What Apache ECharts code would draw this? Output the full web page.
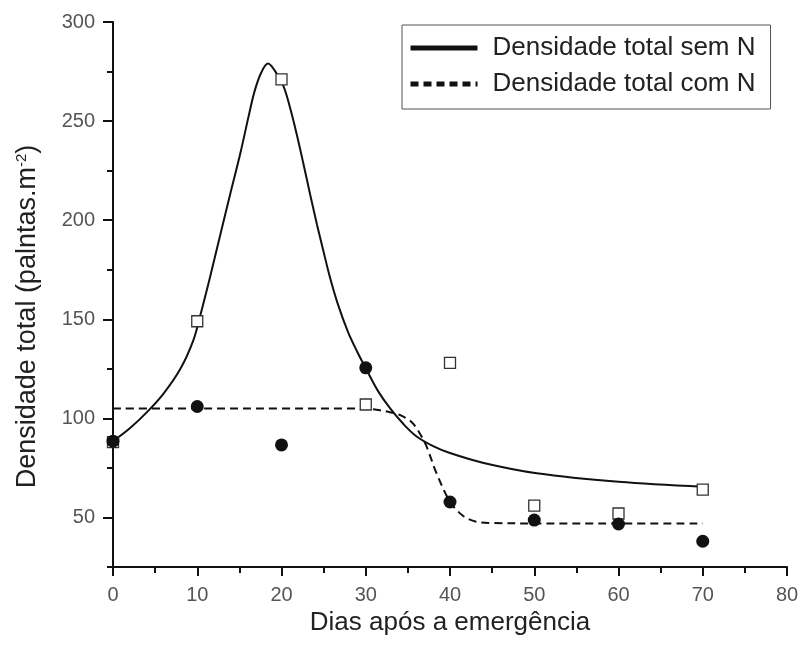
<!DOCTYPE html>
<html>
<head>
<meta charset="utf-8">
<script src="https://cdn.jsdelivr.net/npm/echarts@6/dist/echarts.min.js"></script>
<style>
  html, body { margin: 0; padding: 0; background: #fff; }
  #chart { width: 800px; height: 652px; }
</style>
</head>
<body>
<div id="chart"></div>
<script>
// observed points (days after emergence)
var days = [0, 10, 20, 30, 40, 50, 60, 70];
var semN = [88, 149, 271, 107, 128, 56, 52, 64];           // open squares
var comN = [88.5, 106, 86.6, 125.5, 57.8, 48.7, 46.7, 38]; // filled circles

// fitted curves
var curveSemX = [0, 2, 4, 6, 8, 9.5, 10.3, 11.5, 12.7, 13.9, 15.1, 16.1, 16.8, 17.6, 18.4, 19.2, 20.2, 21, 21.8, 22.6, 23.4, 24.2, 25, 25.7, 26.7, 27.9, 29, 30.1, 31.5, 32.9, 34.5, 36, 38, 40, 44, 50.3, 60, 70];
var curveSemY = [88.5, 95, 103, 112.5, 125, 139, 151, 171, 192, 213, 233.5, 252.5, 265, 274.5, 279, 275.5, 268, 257, 243.5, 228.5, 213, 198, 184, 172, 157.5, 143.5, 133.5, 124.5, 113.5, 105, 97, 91, 86, 82.5, 77.5, 72.3, 68, 65.5];
var curveComX = [0, 10, 20, 28, 30, 31.5, 33, 34, 35, 35.6, 36.4, 37.2, 38.4, 40, 41.5, 43, 45, 50, 60, 70];
var curveComY = [105, 105, 105, 105, 104.9, 104.2, 103, 101.8, 99.5, 97.5, 92.5, 86, 72.3, 58, 51, 48, 47.2, 47, 47, 47];

var legendNames = ['Densidade total sem N', 'Densidade total com N'];
var xName = 'Dias após a emergência';

function pairs(xs, ys) {
    return xs.map(function (x, i) { return [x, ys[i]]; });
}

var font = "'Liberation Sans', Arial, sans-serif";
var chart = echarts.init(document.getElementById('chart'));

var option = {
    animation: false,
    backgroundColor: '#fff',
    grid: { left: 113, right: 13, top: 22, bottom: 85, outerBoundsMode: 'none' },
    legend: {
        data: legendNames,
        orient: 'vertical',
        left: 402,
        top: 25,
        itemWidth: 67,
        itemHeight: 25,
        itemGap: 10,
        padding: [10, 15, 12, 6],
        borderColor: '#555',
        borderWidth: 1,
        itemStyle: { opacity: 0, color: 'rgba(0,0,0,0)', borderWidth: 0 },
        lineStyle: { width: 5 },
        textStyle: { fontFamily: font, fontSize: 26, color: '#222', padding: [0, 0, 0, 10] }
    },
    xAxis: {
        type: 'value',
        min: 0,
        max: 80,
        interval: 10,
        name: xName,
        nameLocation: 'middle',
        nameGap: 41,
        nameTextStyle: { fontFamily: font, fontSize: 26, color: '#222' },
        axisLine: { lineStyle: { color: '#111', width: 2 } },
        axisTick: { length: 9, lineStyle: { color: '#111', width: 2 } },
        minorTick: { show: true, splitNumber: 2, length: 6, lineStyle: { color: '#111', width: 2 } },
        axisLabel: { fontFamily: font, fontSize: 20, color: '#555', margin: 18 },
        splitLine: { show: false }
    },
    yAxis: [{
        type: 'value',
        min: 25,
        max: 300,
        name: '{a|Densidade total (palntas.m}{s|-2}{a|)}',
        nameLocation: 'middle',
        nameRotate: 90,
        nameGap: 72,
        nameTextStyle: {
            padding: [0, 44, 0, 0],
            rich: {
                a: { fontFamily: font, fontSize: 27, color: '#222', lineHeight: 27 },
                s: { fontFamily: font, fontSize: 15, color: '#222', verticalAlign: 'top', lineHeight: 27 }
            }
        },
        axisLine: { lineStyle: { color: '#111', width: 2 } },
        axisTick: { length: 10, lineStyle: { color: '#111', width: 2 } },
        axisLabel: { fontFamily: font, fontSize: 20, color: '#555', margin: 18, showMinLabel: false },
        splitLine: { show: false }
    }, {
        // second axis only for the short ticks half way between labels
        type: 'value',
        min: 25,
        max: 300,
        interval: 50,
        position: 'left',
        axisLine: { show: false },
        axisTick: { length: 6, lineStyle: { color: '#111', width: 2 } },
        axisLabel: { show: false },
        splitLine: { show: false }
    }],
    series: [{
        name: legendNames[0],
        type: 'line',
        data: pairs(curveSemX, curveSemY),
        smooth: 0.35,
        symbol: 'none',
        lineStyle: { color: '#111', width: 2 },
        itemStyle: { color: '#111' },
        z: 2
    }, {
        name: legendNames[1],
        type: 'line',
        data: pairs(curveComX, curveComY),
        smooth: 0.35,
        symbol: 'none',
        lineStyle: { color: '#111', width: 2, type: [8, 5] },
        itemStyle: { color: '#111' },
        z: 2
    }, {
        type: 'scatter',
        data: pairs(days, semN),
        symbol: 'rect',
        symbolSize: 11,
        itemStyle: { color: '#fff', borderColor: '#333', borderWidth: 1.3, opacity: 1 },
        z: 3
    }, {
        type: 'scatter',
        data: pairs(days, comN),
        symbol: 'circle',
        symbolSize: 13,
        itemStyle: { color: '#111', opacity: 1 },
        z: 4
    }]
};

chart.setOption(option);
</script>
</body>
</html>
